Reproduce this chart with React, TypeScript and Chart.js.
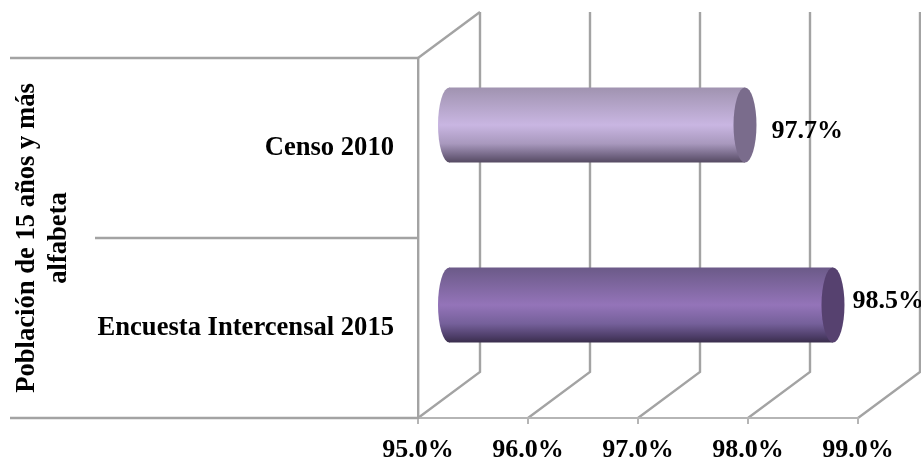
import React, { useEffect, useRef } from "react";
import { Chart, registerables } from "chart.js";

Chart.register(...registerables);

const categories = ["Censo 2010", "Encuesta Intercensal 2015"];
const values = [97.7, 98.5];
const axisMin = 95;
const axisMax = 99;
const axisStep = 1;
const axisTitle = ["Población de 15 años y más", "alfabeta"];
const bodyStops = [
  ["#a093b0", "#c9b6e2", "#a898bd", "#6f6280", "#554a62"],
  ["#6b5a88", "#9474b9", "#75609a", "#4d3d68", "#3a2e4c"],
];
const stopAt = [0, 0.5, 0.75, 0.92, 1];
const capColors = ["#7a6c8c", "#56416f"];

const FONT = "'Liberation Serif', 'Times New Roman', serif";
const GRID = "#a3a3a3";
const DEPTH_X = 62;
const DEPTH_Y = -46;
const BAR_DX = 30;
const BAR_DY = -23;
const CAP_RX = 11.5;
const LABEL_DX = [4, -3];
const LABEL_DY = [6, -3.5];

// offsetY: 0 when painting under the translated context, BAR_DY when painting untranslated
function cylinderFill(chart: any, i: number, offsetY = 0) {
  const s = bodyStops[i];
  const cy = chart.scales.y ? chart.scales.y.getPixelForValue(i) : NaN;
  if (!Number.isFinite(cy)) return s[1];
  const half = 37.5;
  const g = chart.ctx.createLinearGradient(0, cy + offsetY - half, 0, cy + offsetY + half);
  s.forEach((c, k) => g.addColorStop(stopAt[k], c));
  return g;
}

const wallPlugin = {
  id: "wall",
  beforeDraw(chart: any) {
    const { ctx, chartArea: a, scales } = chart;
    ctx.save();
    ctx.strokeStyle = GRID;
    ctx.lineWidth = 2.4;
    ctx.lineJoin = "miter";
    for (const t of scales.x.ticks) {
      const x = scales.x.getPixelForValue(t.value);
      const bx = x + DEPTH_X;
      ctx.beginPath();
      ctx.moveTo(x, a.bottom);
      ctx.lineTo(bx, a.bottom + DEPTH_Y);
      ctx.lineTo(bx, a.top + DEPTH_Y);
      ctx.stroke();
    }
    ctx.beginPath();
    ctx.moveTo(a.left, a.top);
    ctx.lineTo(a.left + DEPTH_X, a.top + DEPTH_Y);
    ctx.stroke();
    // category axis separators, drawn at the band edges of the y scale
    const mid = (scales.y.getPixelForValue(0) + scales.y.getPixelForValue(1)) / 2;
    const rows: [number, number][] = [[a.top, 10], [mid, 95], [a.bottom, 10]];
    for (const [y, x0] of rows) {
      ctx.beginPath();
      ctx.moveTo(x0, y);
      ctx.lineTo(a.left, y);
      ctx.stroke();
    }
    ctx.restore();
  },
  beforeDatasetsDraw(chart: any) {
    chart.ctx.save();
    chart.ctx.translate(BAR_DX, BAR_DY);
  },
  afterDatasetsDraw(chart: any) {
    const { ctx } = chart;
    const meta = chart.getDatasetMeta(0);
    ctx.restore();
    ctx.save();
    meta.data.forEach((bar: any, i: number) => {
      const ry = bar.height / 2;
      const bx = bar.base + BAR_DX;
      const ex = bar.x + BAR_DX;
      const cy = bar.y + BAR_DY;
      ctx.fillStyle = cylinderFill(chart, i, BAR_DY);
      ctx.beginPath();
      ctx.ellipse(bx + 0.5, cy, CAP_RX, ry, 0, Math.PI / 2, (3 * Math.PI) / 2);
      ctx.closePath();
      ctx.fill();
      ctx.fillStyle = capColors[i];
      ctx.beginPath();
      ctx.ellipse(ex, cy, CAP_RX, ry, 0, 0, Math.PI * 2);
      ctx.fill();
    });
    ctx.fillStyle = "#000";
    ctx.font = `bold 26px ${FONT}`;
    ctx.textAlign = "left";
    ctx.textBaseline = "middle";
    meta.data.forEach((bar: any, i: number) => {
      ctx.fillText(
        values[i].toFixed(1) + "%",
        bar.x + BAR_DX + CAP_RX + 11 + LABEL_DX[i],
        bar.y + BAR_DY + LABEL_DY[i]
      );
    });
    ctx.restore();
  },
};

export default function App() {
  const ref = useRef<HTMLCanvasElement>(null);
  useEffect(() => {
    if (!ref.current) return;
    const chart = new Chart(ref.current, {
      type: "bar",
      data: {
        labels: categories,
        datasets: [
          {
            label: "Población de 15 años y más alfabeta",
            data: values,
            base: axisMin,
            backgroundColor: (c: any) => cylinderFill(c.chart, c.dataIndex),
            borderWidth: 0,
            barPercentage: 75 / 180,
            categoryPercentage: 1,
            clip: false,
          } as any,
        ],
      },
      plugins: [wallPlugin],
      options: {
        indexAxis: "y",
        animation: false,
        responsive: false,
        maintainAspectRatio: false,
        layout: { padding: { top: 58, right: 63, bottom: 0, left: 0 } },
        plugins: { legend: { display: false }, tooltip: { enabled: false } },
        scales: {
          x: {
            min: axisMin,
            max: axisMax,
            afterFit: (s: any) => {
              s.height = 46;
            },
            ticks: {
              stepSize: axisStep,
              padding: 11,
              maxRotation: 0,
              autoSkip: false,
              color: "#000",
              font: { family: FONT, size: 26, weight: "bold" },
              callback: (v: any) => Number(v).toFixed(1) + "%",
            },
            grid: { drawOnChartArea: false, drawTicks: true, tickLength: 6, color: "#b5b5b5", lineWidth: 2 },
            border: { color: "#b5b5b5", width: 2 },
          },
          y: {
            afterFit: (s: any) => {
              s.width = 418;
            },
            title: {
              display: true,
              text: axisTitle,
              color: "#000",
              padding: { top: 11, bottom: 0 },
              font: { family: FONT, size: 26.6, weight: "bold", lineHeight: 1.21 },
            },
            ticks: {
              padding: 24,
              color: "#000",
              font: { family: FONT, size: 26.6, weight: "bold" },
            },
            grid: { display: false, drawTicks: false },
            border: { color: GRID, width: 2.4 },
          },
        },
      } as any,
    });
    return () => chart.destroy();
  }, []);
  return (
    <div style={{ position: "absolute", left: 0, top: 0, width: 921, height: 464 }}>
      <canvas ref={ref} width={921} height={464} style={{ display: "block" }} />
    </div>
  );
}
